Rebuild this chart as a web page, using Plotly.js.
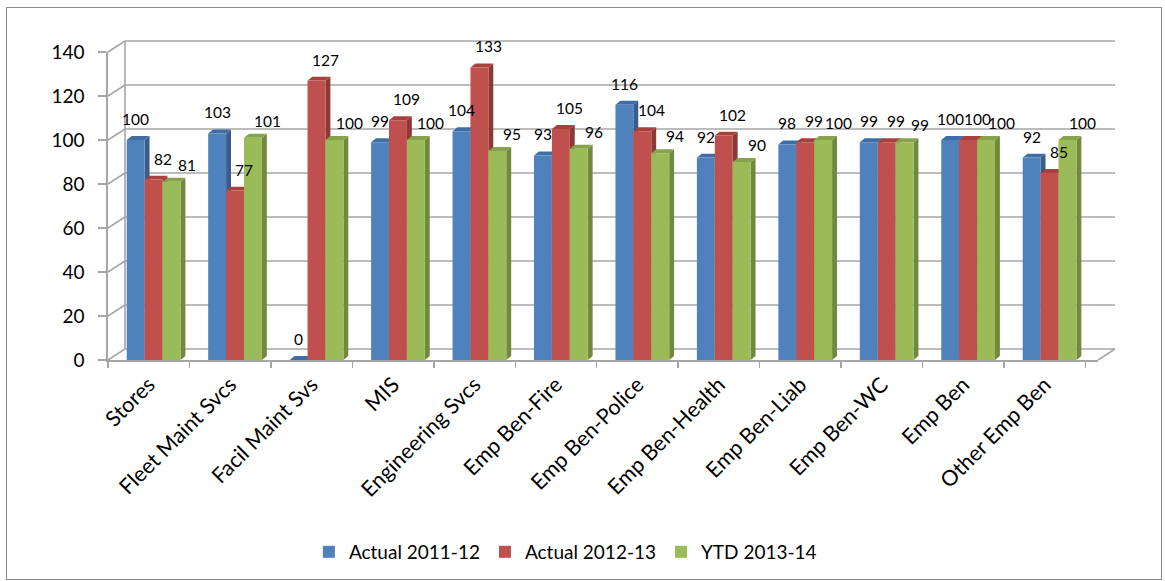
<!DOCTYPE html>
<html>
<head>
<meta charset="utf-8">
<script src="https://cdn.plot.ly/plotly-3.0.1.min.js"></script>
<style>
  html, body { margin: 0; padding: 0; background: #fff; }
  #wrap { position: relative; width: 1165px; height: 581px; overflow: hidden; }
  #chart { width: 1165px; height: 581px; }
  #frame { position: absolute; left: 6px; top: 7px; width: 1154px; height: 571px;
           border: 1px solid #8c8c8c; pointer-events: none; }
</style>
</head>
<body>
<div id="wrap"><div id="chart"></div><div id="frame"></div></div>
<script>
// ---- data ----
const categories = ["Stores", "Fleet Maint Svcs", "Facil Maint Svs", "MIS", "Engineering Svcs",
  "Emp Ben-Fire", "Emp Ben-Police", "Emp Ben-Health", "Emp Ben-Liab", "Emp Ben-WC",
  "Emp Ben", "Other Emp Ben"];
const actual2011 = [100, 103, 0, 99, 104, 93, 116, 92, 98, 99, 100, 92];
const actual2012 = [82, 77, 127, 109, 133, 105, 104, 102, 99, 99, 100, 85];
const ytd2013 = [81, 101, 100, 100, 95, 96, 94, 90, 100, 99, 100, 100];
const seriesNames = ["Actual 2011-12", "Actual 2012-13", "YTD 2013-14"];
const yTicks = [0, 20, 40, 60, 80, 100, 120, 140];

// ---- style ----
const fronts = ["#4F81BD", "#C0504D", "#9BBB59"];
const sides = ["#385D8A", "#8C3836", "#71893F"];
const tops = ["#3F6EA6", "#A8413E", "#86A24A"];
const barW = 0.22;
const offsets = [-0.27, -0.05, 0.17];
const depthX = 0.06;   // category units
const depthY = 1.8;    // y units
const labelXShift = [0, 9, 15];
const labelYShift = [21, 21, 17];
const yMax = 140;
const plotH = 309, plotW = 990;
const wallDX = 17 / plotW, wallDY = 11 / plotH;
const FONT = "Lato, 'Open Sans', sans-serif";

const allSeries = [actual2011, actual2012, ytd2013];

const traces = allSeries.map((vals, s) => ({
  type: "bar",
  name: seriesNames[s],
  x: categories,
  y: vals,
  width: barW,
  offset: offsets[s],
  marker: { color: fronts[s], line: { width: 0 } },
  hoverinfo: "x+y+name"
}));

const shapes = [];
yTicks.forEach(v => {
  const yp = v / yMax;
  shapes.push({ type: "line", xref: "paper", yref: "paper", layer: "below",
    x0: wallDX, x1: 1 + wallDX, y0: yp + wallDY, y1: yp + wallDY,
    line: { color: "#a6a6a6", width: 1.6 } });
  shapes.push({ type: "line", xref: "paper", yref: "paper", layer: "below",
    x0: 0, x1: wallDX, y0: yp, y1: yp + wallDY,
    line: { color: "#a6a6a6", width: 1.6 } });
});
shapes.push({ type: "line", xref: "paper", yref: "paper", layer: "below",
  x0: wallDX, x1: wallDX, y0: wallDY, y1: 1 + wallDY, line: { color: "#a6a6a6", width: 1.6 } });
shapes.push({ type: "line", xref: "paper", yref: "paper", layer: "below",
  x0: 1, x1: 1 + wallDX, y0: 0, y1: wallDY, line: { color: "#a6a6a6", width: 1.6 } });

// 3D side and top faces of bars, derived from the data arrays
allSeries.forEach((vals, s) => {
  vals.forEach((v, i) => {
    const x0 = i + offsets[s], x1 = x0 + barW;
    shapes.push({ type: "path", xref: "x", yref: "y", layer: "below",
      path: `M${x1},0 L${x1 + depthX},${depthY} L${x1 + depthX},${v + depthY} L${x1},${v} Z`,
      fillcolor: sides[s], line: { width: 0 } });
    shapes.push({ type: "path", xref: "x", yref: "y", layer: "below",
      path: `M${x0},${v} L${x0 + depthX},${v + depthY} L${x1 + depthX},${v + depthY} L${x1},${v} Z`,
      fillcolor: tops[s], line: { width: 0 } });
  });
});

const annotations = [];
allSeries.forEach((vals, s) => {
  vals.forEach((v, i) => {
    annotations.push({
      x: i + offsets[s] + barW / 2, y: v, xref: "x", yref: "y",
      text: String(v), showarrow: false, xanchor: "center", yanchor: "middle",
      xshift: labelXShift[s], yshift: labelYShift[s],
      font: { family: FONT, size: 15.5, color: "#000" }
    });
  });
});

const layout = {
  width: 1165, height: 581,
  margin: { l: 108, r: 67, t: 52, b: 220 },
  paper_bgcolor: "rgba(0,0,0,0)",
  plot_bgcolor: "rgba(0,0,0,0)",
  barmode: "overlay",
  showlegend: true,
  font: { family: FONT, color: "#000" },
  xaxis: {
    type: "category",
    showgrid: false,
    showline: true, linecolor: "#a6a6a6", linewidth: 1.6,
    ticks: "outside", tickson: "boundaries", ticklen: 6, tickcolor: "#a6a6a6", tickwidth: 1.5,
    tickangle: -45,
    tickfont: { size: 21.5, color: "#000" },
    ticklabelstandoff: 2,
    zeroline: false,
    automargin: false,
    fixedrange: true
  },
  yaxis: {
    range: [0, yMax],
    tickvals: yTicks,
    showgrid: false,
    zeroline: false,
    showline: true, linecolor: "#a6a6a6", linewidth: 1.6,
    ticks: "outside", ticklen: 8, tickcolor: "#a6a6a6", tickwidth: 1.5,
    tickfont: { size: 19, color: "#000" },
    ticklabelstandoff: 10,
    automargin: false,
    fixedrange: true
  },
  legend: {
    orientation: "h", x: 0.462, xanchor: "center", y: -0.618, yanchor: "middle",
    font: { size: 19, color: "#000" },
    traceorder: "normal",
    itemwidth: 30
  },
  shapes: shapes,
  annotations: annotations
};

Plotly.newPlot("chart", traces, layout, { displayModeBar: false, staticPlot: true });
</script>
</body>
</html>
